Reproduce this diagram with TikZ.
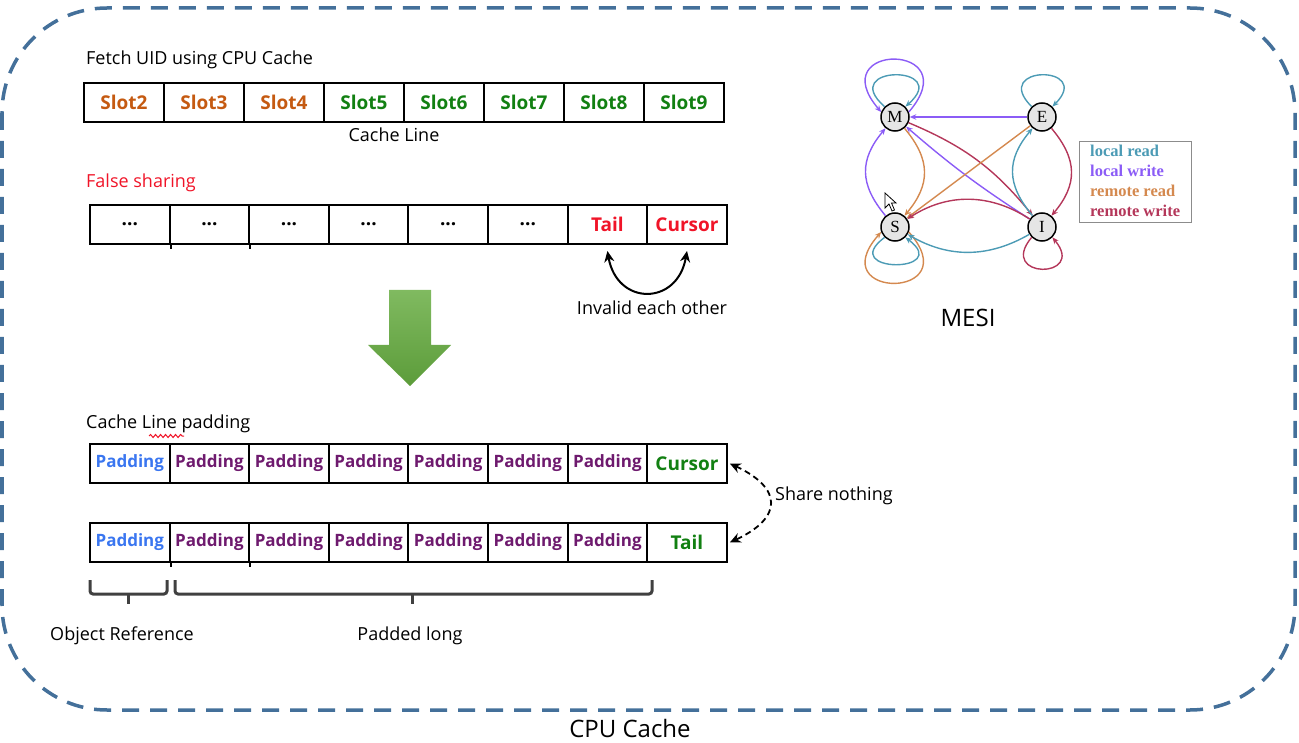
\documentclass[tikz,border=0pt]{standalone}
\usepackage{fontspec}
\setmainfont{Open Sans}
\newfontfamily\mesifont{Liberation Serif}
\usetikzlibrary{arrows.meta,decorations.pathmorphing}

\definecolor{rahmenblau}{RGB}{68,112,154}
\definecolor{slotorange}{RGB}{197,90,17}
\definecolor{slotgruen}{RGB}{18,128,18}
\definecolor{falschrot}{RGB}{240,20,40}
\definecolor{padblau}{RGB}{58,118,240}
\definecolor{padlila}{RGB}{110,26,110}
\definecolor{pfeilhell}{RGB}{128,186,96}
\definecolor{pfeildunkel}{RGB}{92,156,58}
\definecolor{klammergrau}{RGB}{64,64,64}
\definecolor{lesen}{RGB}{76,155,181}
\definecolor{schreiben}{RGB}{139,92,246}
\definecolor{fernlesen}{RGB}{212,137,79}
\definecolor{fernschreiben}{RGB}{180,55,90}

\newcommand{\punkte}{...}

\tikzset{
  zelle/.style={draw, line width=2, minimum width=79.6, minimum height=39, inner sep=0,
    font=\fontsize{19}{19}\bfseries\selectfont},
  padzelle/.style={zelle, font=\fontsize{17}{17}\bfseries\selectfont},
  beschriftung/.style={font=\fontsize{18}{18}\selectfont, inner sep=0},
  klammer/.style={draw=klammergrau, line width=3, rounded corners=3},
  zustand/.style={circle, draw, fill=black!10, line width=1.5, minimum size=28, inner sep=0,
    font=\mesifont\fontsize{17}{17}\selectfont},
  kante/.style={line width=1.4, -{Stealth[length=6.5pt,width=5.5pt]}},
  legende/.style={anchor=west, inner sep=0, font=\mesifont\fontsize{16.5}{16.5}\bfseries\selectfont}
}

\begin{document}
\begin{tikzpicture}[x=1pt,y=-1pt]
  \useasboundingbox (0,0) rectangle (1299,743);

  % Rahmen
  \draw[rahmenblau, line width=3.5, dash pattern=on 17 off 11, rounded corners=105]
    (2,8) rectangle (1295,710);
  \node[font=\fontsize{24}{24}\selectfont, inner sep=0] (cpucache) at (630,728) {CPU Cache};

  % Cache Line
  \node[beschriftung, anchor=west] (fetch) at (86,60) {Fetch UID using CPU Cache};
  \foreach \txt/\farbe [count=\i] in {Slot2/slotorange,Slot3/slotorange,Slot4/slotorange,
      Slot5/slotgruen,Slot6/slotgruen,Slot7/slotgruen,Slot8/slotgruen,Slot9/slotgruen}
    \node[zelle, text=\farbe] (slot\i) at ({84+80*(\i-0.5)},102.5) {\txt};
  \node[beschriftung] (cacheline) at (394,135) {Cache Line};

  % False sharing
  \node[beschriftung, anchor=west, text=falschrot] (falsch) at (86,183) {False sharing};
  \foreach \txt/\farbe [count=\i] in {\punkte/black,\punkte/black,\punkte/black,\punkte/black,
      \punkte/black,\punkte/black,Tail/falschrot,Cursor/falschrot}
    \node[zelle, text=\farbe] (fs\i) at ({90+79.6*(\i-0.5)},224.5) {\txt};
  \draw[line width=2] (fs1.south east) -- ++(0,4);
  \draw[line width=2] (fs2.south east) -- ++(0,4);
  \draw[line width=2, {Stealth[length=11pt,width=10pt]}-{Stealth[length=11pt,width=10pt]}]
    ([yshift=-6pt]fs7.south) to[out=-80, in=-100, looseness=1.8] ([yshift=-6pt]fs8.south);
  \node[beschriftung] (invalid) at (652,308) {Invalid each other};

  % Pfeil nach unten
  \shade[top color=pfeilhell, bottom color=pfeildunkel]
    (389,290) -- (431,290) -- (431,345) -- (451,345) -- (410,386) -- (368,345) -- (389,345) -- cycle;

  % Cache Line padding
  \node[beschriftung, anchor=west] (padding) at (86,424) {Cache Line padding};
  \draw[falschrot, line width=1, decorate, decoration={snake, amplitude=1.5, segment length=5}]
    (149,436) -- (184,436);
  \foreach \txt/\farbe [count=\i] in {Padding/padblau,Padding/padlila,Padding/padlila,Padding/padlila,
      Padding/padlila,Padding/padlila,Padding/padlila}
    \node[padzelle, text=\farbe] (padA\i) at ({90+79.6*(\i-0.5)},463.5) {\txt};
  \node[zelle, text=slotgruen] (padA8) at ({90+79.6*7.5},463.5) {Cursor};
  \foreach \txt/\farbe [count=\i] in {Padding/padblau,Padding/padlila,Padding/padlila,Padding/padlila,
      Padding/padlila,Padding/padlila,Padding/padlila}
    \node[padzelle, text=\farbe] (padB\i) at ({90+79.6*(\i-0.5)},542.5) {\txt};
  \node[zelle, text=slotgruen] (padB8) at ({90+79.6*7.5},542.5) {Tail};
  \draw[line width=2] (padB1.south east) -- ++(0,4);
  \draw[line width=2] (padB2.south east) -- ++(0,4);
  \draw[line width=1.8, dash pattern=on 6 off 4,
    {Stealth[length=11pt,width=10pt]}-{Stealth[length=11pt,width=10pt]}]
    ([xshift=2pt]padA8.east) to[out=-25, in=25, looseness=1.9] ([xshift=2pt]padB8.east);
  \node[beschriftung, anchor=west] (share) at (775,496) {Share nothing};

  % Klammern
  \draw[klammer] (90,580) -- (90,594) -- (167,594) -- (167,580);
  \draw[klammer] (128,594) -- (128,604);
  \draw[klammer] (175,580) -- (175,594) -- (652,594) -- (652,580);
  \draw[klammer] (412,594) -- (412,604);
  \node[beschriftung] (objref) at (122,636) {Object Reference};
  \node[beschriftung] (padlong) at (410,636) {Padded long};

  % MESI
  \node[zustand] (M) at (895,117) {M};
  \node[zustand] (E) at (1042,117) {E};
  \node[zustand] (S) at (895,227) {S};
  \node[zustand] (I) at (1042,227) {I};

  % Schleifen
  \draw[kante, schreiben] (M.20) .. controls +(60,-70) and +(-60,-70) .. (M.160);
  \draw[kante, lesen] (M.135) .. controls +(-48,-42) and +(48,-42) .. (M.45);
  \draw[kante, lesen] (E.135) .. controls +(-42,-42) and +(42,-42) .. (E.45);
  \draw[kante, fernlesen] (S.-20) .. controls +(60,68) and +(-60,68) .. (S.-160);
  \draw[kante, lesen] (S.-135) .. controls +(-48,36) and +(48,36) .. (S.-45);
  \draw[kante, fernschreiben] (I.-135) .. controls +(-35,42) and +(35,42) .. (I.-45);

  % Uebergaenge
  \draw[kante, schreiben] (E) -- (M);
  \draw[kante, fernschreiben] (M) to[bend left=14] (I);
  \draw[kante, schreiben] (I) to[bend left=4] (M);
  \draw[kante, fernlesen] (E) -- (S);
  \draw[kante, fernlesen] (M) to[bend left=40, looseness=1.2] (S);
  \draw[kante, schreiben] (S) to[bend left=40, looseness=1.2] (M);
  \draw[kante, fernschreiben] (I) to[bend right=33] (S);
  \draw[kante, lesen] (I) to[bend left=30] (S);
  \draw[kante, lesen] (I) to[bend left=40, looseness=1.2] (E);
  \draw[kante, fernschreiben] (E) to[bend left=40, looseness=1.2] (I);

  % Mauszeiger
  \draw[fill=white, line width=0.8]
    (885,193) -- (885,208) -- (889,204) -- (892,211) -- (894.5,210) -- (891.5,203) -- (896,203) -- cycle;

  % Legende
  \node[draw=black!45, line width=1.2, minimum width=112, minimum height=81, anchor=north west,
    inner sep=0] (legendbox) at (1079,141) {};
  \node[legende, text=lesen] (lg1) at (1090,151) {local read};
  \node[legende, text=schreiben] (lg2) at (1090,171) {local write};
  \node[legende, text=fernlesen] (lg3) at (1090,191) {remote read};
  \node[legende, text=fernschreiben] (lg4) at (1090,211) {remote write};
  \node[font=\fontsize{24}{24}\selectfont, inner sep=0] (mesi) at (968,318) {MESI};
\end{tikzpicture}
\end{document}
